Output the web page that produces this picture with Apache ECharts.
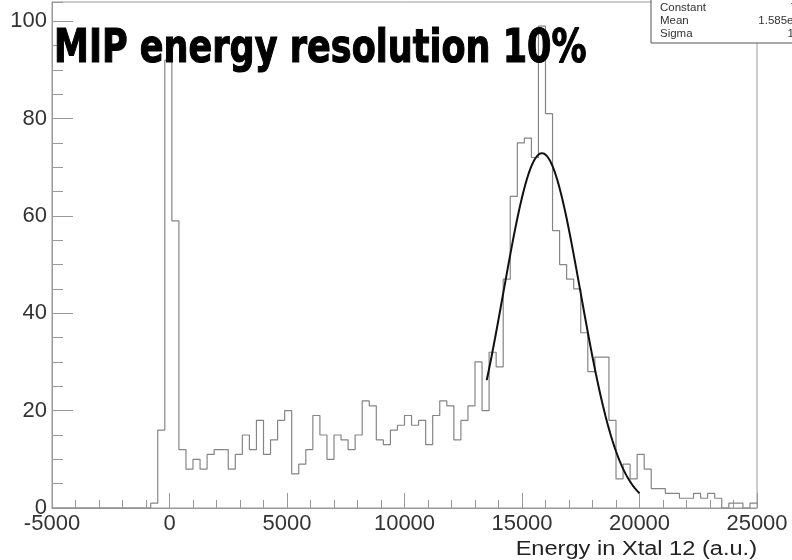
<!DOCTYPE html>
<html>
<head>
<meta charset="utf-8">
<script src="https://cdn.jsdelivr.net/npm/echarts@6/dist/echarts.min.js"></script>
<style>
  html, body { margin: 0; padding: 0; background: #ffffff; }
  #chart { width: 792px; height: 560px; }
</style>
</head>
<body>
<div id="chart"></div>
<script>
// Energy spectrum of crystal 12: 100 bins of 300 a.u. starting at -5000
const binStart = -5000;
const binWidth = 300;
const binCounts = [
  0, 0, 0, 0, 0, 0, 0, 0, 0, 0,
  0, 0, 0, 0, 1, 16, 92, 59, 12, 8,
  10, 8, 11, 12, 12, 8, 11, 15, 12, 18,
  11, 14, 18, 20, 7, 9, 12, 19, 15, 10,
  15, 14, 12, 15, 22, 21, 14, 13, 16, 17,
  19, 17, 18, 13, 19, 22, 21, 14, 18, 21,
  30, 20, 32, 29, 47, 64, 75, 76, 72, 99,
  81, 57, 50, 47, 45, 36, 28, 31, 31, 18,
  6, 9, 6, 11, 8, 4, 4, 3, 3, 2,
  2, 3, 2, 3, 2, 0, 1, 1, 0, 1
];

const xTickLabels = ['-5000', '0', '5000', '10000', '15000', '20000', '25000'];
const yTickLabels = ['0', '20', '40', '60', '80', '100'];

// Gaussian fit of the MIP peak (gaus: Constant, Mean, Sigma)
const fitNames = ['Constant', 'Mean', 'Sigma'];
const fitValues = [72.9, 15850, 1645];
const fitValueText = ['72.9', '1.585e+04', '1645'];
const fitRange = [13500, 20000];

const titleText = 'MIP energy resolution 10%';
const xTitle = 'Energy in Xtal 12 (a.u.)';

// histogram outline: one point per bin low edge, plus the upper edge of the last bin
const histData = binCounts.map((c, i) => [binStart + i * binWidth, c]);
histData.push([binStart + binCounts.length * binWidth, binCounts[binCounts.length - 1]]);

// fitted function evaluated along its range
function gaus(x) {
  const [c, m, s] = fitValues;
  const t = (x - m) / s;
  return c * Math.exp(-0.5 * t * t);
}
const fitData = [];
for (let x = fitRange[0]; x <= fitRange[1]; x += 50) fitData.push([x, gaus(x)]);

const xMin = binStart;
const xMax = binStart + binCounts.length * binWidth;
const yMax = Math.max(...binCounts) * 1.05;

const labelFont = 'Liberation Sans';
const axisGray = '#999999';

const chart = echarts.init(document.getElementById('chart'), null, { renderer: 'canvas' });

const statsTexts = [];
fitNames.forEach((n, i) => {
  const y = 8 + i * 13;
  statsTexts.push({
    type: 'text', x: 660, y: y, z: 101,
    style: { text: n, font: '11.5px "Liberation Sans"', fill: '#333',
             textAlign: 'left', textVerticalAlign: 'middle', align: 'left', verticalAlign: 'middle' }
  });
  statsTexts.push({
    type: 'text', x: 813, y: y, z: 101,
    style: { text: fitValueText[i], font: '11.5px "Liberation Sans"', fill: '#333',
             textAlign: 'right', textVerticalAlign: 'middle', align: 'right', verticalAlign: 'middle' }
  });
});

chart.setOption({
  animation: false,
  backgroundColor: '#ffffff',
  grid: {
    left: 52, right: 35, top: 2, bottom: 52,
    show: true, borderColor: axisGray, borderWidth: 1, backgroundColor: 'transparent'
  },
  xAxis: {
    type: 'value',
    min: xMin, max: xMax, interval: 5000,
    splitLine: { show: false },
    axisLine: { show: true, onZero: false, lineStyle: { color: axisGray, width: 1 } },
    axisTick: { show: true, inside: true, length: 15, lineStyle: { color: axisGray, width: 1 } },
    minorTick: { show: true, splitNumber: 5, length: 8, lineStyle: { color: axisGray, width: 1 } },
    axisLabel: {
      show: true, margin: 5, color: '#333', fontFamily: labelFont, fontSize: 22,
      formatter: v => { const s = String(v); return xTickLabels.includes(s) ? s : ''; }
    }
  },
  yAxis: [
    {
      type: 'value',
      min: 0, max: yMax, interval: 20,
      splitLine: { show: false },
      axisLine: { show: true, onZero: false, lineStyle: { color: axisGray, width: 1 } },
      axisTick: { show: true, inside: true, length: 21, lineStyle: { color: axisGray, width: 1 } },
      minorTick: { show: false },
      axisLabel: {
        show: true, margin: 5, color: '#333', fontFamily: labelFont, fontSize: 22,
        showMaxLabel: false,
        formatter: v => { const s = String(v); return yTickLabels.includes(s) ? s : ''; }
      }
    },
    {
      // secondary scale carrying only the small ticks every 5 counts
      type: 'value', position: 'left',
      min: 0, max: yMax, interval: 5,
      splitLine: { show: false },
      axisLine: { show: false, onZero: false },
      axisTick: { show: true, inside: true, length: 11, lineStyle: { color: axisGray, width: 1 } },
      axisLabel: { show: false }
    }
  ],
  series: [
    {
      name: 'Energy',
      type: 'line',
      step: 'end',
      data: histData,
      showSymbol: false,
      clip: true,
      lineStyle: { color: '#858585', width: 1.2 },
      z: 3
    },
    {
      name: 'gaus',
      type: 'line',
      data: fitData,
      showSymbol: false,
      smooth: false,
      clip: true,
      lineStyle: { color: '#111111', width: 2 },
      z: 4
    }
  ],
  graphic: [
    {
      type: 'text', x: 54, y: 50.5, scaleX: 0.762, z: 100,
      style: {
        text: titleText, font: 'bold 46px "DejaVu Sans"', fill: '#000', stroke: '#000', lineWidth: 1.2,
        textAlign: 'left', textVerticalAlign: 'middle', align: 'left', verticalAlign: 'middle'
      }
    },
    {
      // axis title, right-aligned with the end of the energy axis
      type: 'text', x: 757, y: 549, scaleX: 1.18, z: 100,
      style: {
        text: xTitle, font: '20px "Liberation Sans"', fill: '#222',
        textAlign: 'right', textVerticalAlign: 'middle', align: 'right', verticalAlign: 'middle'
      }
    },
    {
      type: 'rect', z: 100,
      shape: { x: 651, y: -1, width: 170, height: 44 },
      style: { fill: '#ffffff', stroke: '#555555', lineWidth: 1 }
    },
    ...statsTexts
  ]
});
</script>
</body>
</html>
